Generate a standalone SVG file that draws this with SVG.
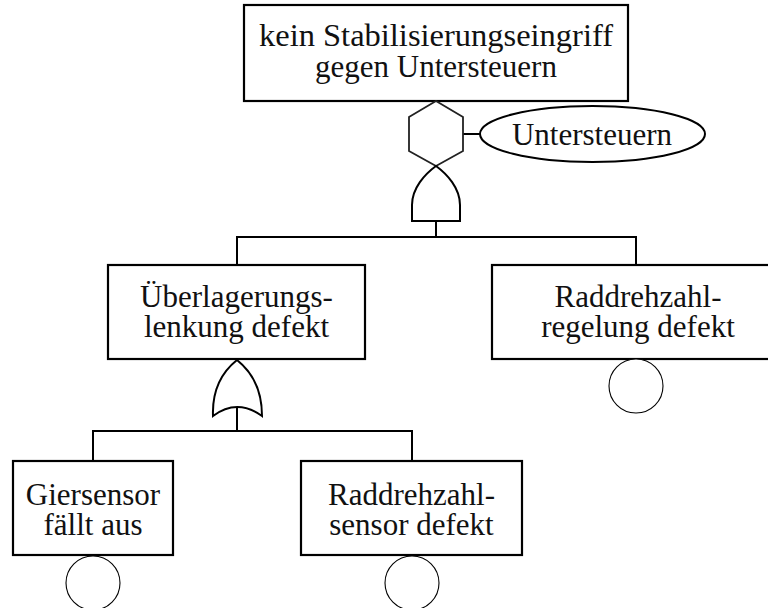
<svg xmlns="http://www.w3.org/2000/svg" width="768" height="608" viewBox="0 0 768 608">
<style>
.box{fill:#fff;stroke:#000;stroke-width:2.2}
.gate{fill:#fff;stroke:#000;stroke-width:2}
.hex{fill:#fff;stroke:#222;stroke-width:1.8}
.circ{fill:#fff;stroke:#000;stroke-width:1.1}
.ell{fill:#fff;stroke:#000;stroke-width:2}
.conn{fill:none;stroke:#000;stroke-width:2}
text{font-family:"Liberation Serif","DejaVu Serif",serif;font-size:31px;fill:#111;text-anchor:middle}
</style>
<rect width="768" height="608" fill="#fff"/>
<g id="connectors">
<line class="conn" x1="463" y1="134" x2="480" y2="134"/>
<polyline class="conn" points="436,221 436,237"/>
<polyline class="conn" points="237,265 237,237 636,237 636,265"/>
<polyline class="conn" points="237,407 237,431"/>
<polyline class="conn" points="93,461 93,431 412,431 412,461"/>
</g>
<g id="top">
<rect class="box" x="244" y="5" width="384" height="96"/>
<text x="436" y="46" textLength="354" lengthAdjust="spacingAndGlyphs">kein Stabilisierungseingriff</text>
<text x="436" y="77">gegen Untersteuern</text>
</g>
<g id="inhibit">
<polygon class="hex" points="436,101 463,117 463,151 436,166 409,151 409,117"/>
</g>
<g id="condition">
<ellipse class="ell" cx="592.5" cy="134" rx="112.5" ry="28"/>
<text x="592" y="145">Untersteuern</text>
</g>
<g id="gate1">
<path class="gate" d="M412,221 L412,205 C412,188 425,174 436,166 C447,174 460,188 460,205 L460,221 Z"/>
</g>
<g id="ueberlagerung">
<rect class="box" x="108" y="265" width="257" height="94"/>
<text x="236.5" y="307">Überlagerungs-</text>
<text x="236.5" y="337">lenkung defekt</text>
</g>
<g id="raddrehzahlregelung">
<rect class="box" x="492" y="265" width="290" height="94"/>
<text x="638" y="307">Raddrehzahl-</text>
<text x="638" y="337">regelung defekt</text>
<circle class="circ" cx="636" cy="386" r="27"/>
</g>
<g id="gate2">
<path class="gate" d="M213,416 C212,390 222,372 237,360 C252,372 262,390 262,416 Q237,398 213,416 Z"/>
</g>
<g id="giersensor">
<rect class="box" x="13" y="461" width="160" height="94"/>
<text x="93" y="505">Giersensor</text>
<text x="93" y="535">fällt aus</text>
<circle class="circ" cx="93" cy="583" r="27"/>
</g>
<g id="raddrehzahlsensor">
<rect class="box" x="301" y="461" width="221" height="94"/>
<text x="411.5" y="505">Raddrehzahl-</text>
<text x="411.5" y="535">sensor defekt</text>
<circle class="circ" cx="412" cy="583" r="27"/>
</g>
</svg>
